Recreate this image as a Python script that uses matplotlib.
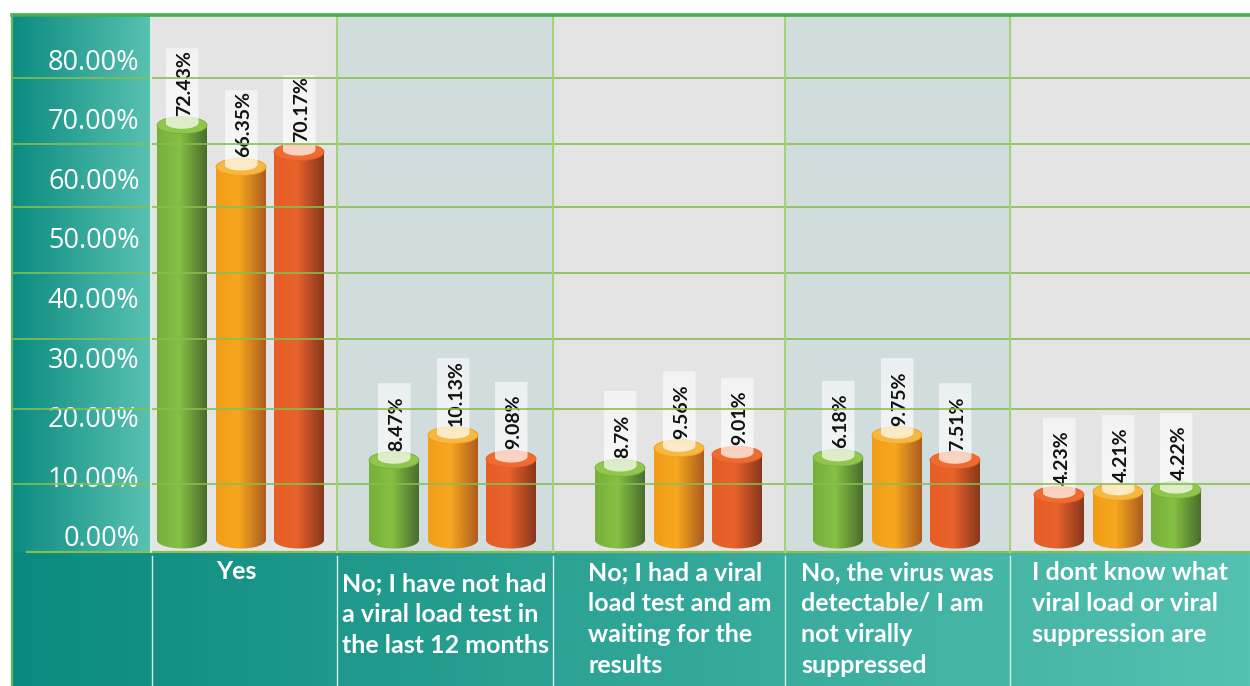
import numpy as np
import matplotlib
matplotlib.use("Agg")
from matplotlib import pyplot as plt
from matplotlib.colors import LinearSegmentedColormap
from matplotlib.lines import Line2D
from matplotlib.patches import Ellipse, PathPatch
from matplotlib.path import Path
from matplotlib.transforms import ScaledTranslation

# answers (one column per answer, three cylinders per column)
categories = [
    "Yes",
    "No; I have not had\na viral load test in\nthe last 12 months",
    "No; I had a viral\nload test and am\nwaiting for the\nresults",
    "No, the virus was\ndetectable/ I am\nnot virally\nsuppressed",
    "I dont know what\nviral load or viral\nsuppression are",
]
# printed percentages on each cylinder
value_labels = [
    [72.43, 66.35, 70.17],
    [8.47, 10.13, 9.08],
    [8.7, 9.56, 9.01],
    [6.18, 9.75, 7.51],
    [4.23, 4.21, 4.22],
]
# cylinder heights as drawn in the source graphic (small bars are exaggerated there)
bar_heights = [
    [69.6, 62.6, 65.1],
    [13.4, 17.6, 13.6],
    [12.1, 15.4, 14.3],
    [13.8, 17.6, 13.4],
    [7.6, 8.1, 8.4],
]
bar_colors = [
    ["green", "orange", "red"],
    ["green", "orange", "red"],
    ["green", "orange", "red"],
    ["green", "orange", "red"],
    ["red", "orange", "green"],
]
y_ticks = [0, 10, 20, 30, 40, 50, 60, 70, 80]

# ---- layout (pixels of the 1250x686 canvas) ----
W, H = 1250, 686
PX_PER_UNIT = 5.96
BASE_PX = 540
col_edges = [152, 337, 553, 785, 1010, 1250]
group_centers = [241, 453, 679, 897, 1118]
bar_offsets = [-59, 0, 58]
bar_w = 50
glow_w = 33
grid_px = [78, 144, 207, 273, 339, 409, 484]
label_top_px = [560, 572, 561, 561, 561]

palette = {
    "green": ("#76b03a", "#86c043", "#4a6c2d", "#8fc64b"),
    "orange": ("#f39c18", "#f6a81f", "#ad5c1f", "#f5b840"),
    "red": ("#e65d26", "#e9632a", "#88371d", "#f06b2f"),
}


def fx(px):
    return px / W


def fy(px):
    return 1 - px / H


def hgrad(ax, c_left, c_right, extent):
    cmap = LinearSegmentedColormap.from_list("g", [c_left, c_right])
    grad = np.linspace(0, 1, 256).reshape(1, -1)
    ax.imshow(grad, cmap=cmap, extent=extent, aspect="auto", origin="lower")


def tube_path(x0, x1, y_top, y_base, eh):
    t = np.linspace(np.pi, 2 * np.pi, 60)
    xc, a = (x0 + x1) / 2, (x1 - x0) / 2
    arc = np.column_stack([xc + a * np.cos(t), y_base + eh / 2 * np.sin(t)])
    verts = [(x0, y_top)] + arc.tolist() + [(x1, y_top), (x0, y_top)]
    return Path(verts, closed=True)


fig = plt.figure(figsize=(W / 100, H / 100), dpi=100)
fig.patch.set_facecolor("white")

# teal panel on the left
panel = fig.add_axes([fx(12), fy(552), fx(140), (552 - 15) / H])
hgrad(panel, "#0b8b80", "#5ac2b3", [0, 1, 0, 1])
panel.set_axis_off()

# teal band with the answers
band = fig.add_axes([fx(12), 0, fx(W - 12), fy(552)])
hgrad(band, "#0a8a7e", "#55c1b1", [0, 1, 0, 1])
band.set_axis_off()

# plot area
ax = fig.add_axes([fx(152), fy(552), fx(W - 152), (552 - 15) / H])
x_lo, x_hi = col_edges[0], col_edges[-1]
y_lo = -(552 - BASE_PX) / PX_PER_UNIT
y_hi = (BASE_PX - 15) / PX_PER_UNIT
ax.set_facecolor("#e4e4e4")
for i in range(len(categories)):
    if i % 2 == 1:
        ax.axvspan(col_edges[i], col_edges[i + 1], color="#d1dcdc", zorder=0)

eh = 17 / PX_PER_UNIT
geh = 12 / PX_PER_UNIT
glow_h = 77 / PX_PER_UNIT
for g, gc in enumerate(group_centers):
    for k in range(3):
        xc = gc + bar_offsets[k]
        h = bar_heights[g][k]
        c_left, c_mid, c_right, c_top = palette[bar_colors[g][k]]
        x0, x1 = xc - bar_w / 2, xc + bar_w / 2
        cmap = LinearSegmentedColormap.from_list(
            "c", [(0, c_left), (0.45, c_mid), (1, c_right)])
        grad = np.linspace(0, 1, 128).reshape(1, -1)
        im = ax.imshow(grad, cmap=cmap, extent=[x0, x1, -eh, h],
                       aspect="auto", origin="lower", zorder=2)
        clip = PathPatch(tube_path(x0, x1, h, 0, eh), transform=ax.transData,
                         facecolor="none", edgecolor="none")
        im.set_clip_path(clip)
        ax.add_patch(Ellipse((xc, h), bar_w, eh, facecolor=c_top,
                             edgecolor=c_left, linewidth=0.6, zorder=3))

        # translucent white column behind the percentage
        g0, g1 = xc - glow_w / 2, xc + glow_w / 2
        rgba = np.ones((64, 1, 4))
        rgba[:, 0, 3] = np.linspace(0.72, 0.55, 64)
        gim = ax.imshow(rgba, extent=[g0, g1, h - geh / 2, h + glow_h],
                        aspect="auto", origin="lower", zorder=4)
        gclip = PathPatch(tube_path(g0, g1, h + glow_h, h + 0.4, geh),
                          transform=ax.transData, facecolor="none", edgecolor="none")
        gim.set_clip_path(gclip)

        ax.text(xc + 3, h + 1.6, f"{value_labels[g][k]:g}%", rotation=90,
                ha="center", va="bottom", fontsize=14, fontweight="bold",
                family="Lato", color="#111111", zorder=6)

ax.set_xlim(x_lo, x_hi)
ax.set_ylim(y_lo, y_hi)
ax.set_xticks([])
ax.set_yticks(y_ticks)
ax.set_yticklabels([f"{t:.2f}%" for t in y_ticks], color="white",
                   fontsize=19.5, family="Open Sans")
ax.tick_params(axis="y", length=0, pad=9)
nudge = ScaledTranslation(0, 4 / 100, fig.dpi_scale_trans)
for lab in ax.get_yticklabels():
    lab.set_transform(lab.get_transform() + nudge)
for s in ax.spines.values():
    s.set_visible(False)

# grid lines across panel and plot, drawn on top as in the source
for gy in grid_px:
    fig.add_artist(Line2D([fx(12), 1], [fy(gy), fy(gy)], color="#86bf4f",
                          linewidth=1.3, alpha=0.9, zorder=5))
fig.add_artist(Line2D([fx(27), 1], [fy(552), fy(552)], color="#86bf4f",
                      linewidth=1.6, zorder=5))

# column dividers
fig.add_artist(Line2D([fx(151), fx(151)], [fy(15), fy(552)], color="#f2f6ee",
                      linewidth=1.2, zorder=5))
for xe in col_edges[1:-1]:
    fig.add_artist(Line2D([fx(xe), fx(xe)], [fy(15), fy(552)], color="#a5d277",
                          linewidth=1.5, zorder=5))
for xe in col_edges[:-1]:
    fig.add_artist(Line2D([fx(xe), fx(xe)], [fy(556), 0], color="#d8ece8",
                          linewidth=1.0, zorder=5))

# outer frame
fig.add_artist(Line2D([fx(12), 1], [fy(15), fy(15)], color="#45ad4a",
                      linewidth=2.6, zorder=6))
fig.add_artist(Line2D([fx(12), fx(12)], [fy(15), 0], color="#5cb85c",
                      linewidth=1.6, zorder=6))

# answer labels
for i, cat in enumerate(categories):
    cx = (col_edges[i] + col_edges[i + 1]) / 2
    if i == 0:
        cx -= 8
    if i == 2:
        cx += 11
    fig.text(fx(cx), fy(label_top_px[i]), cat,
             ha="center", va="top", multialignment="left", color="white",
             fontsize=18, fontweight="bold", family="Lato", linespacing=1.42,
             zorder=7)

fig.savefig("out.png", dpi=100)
